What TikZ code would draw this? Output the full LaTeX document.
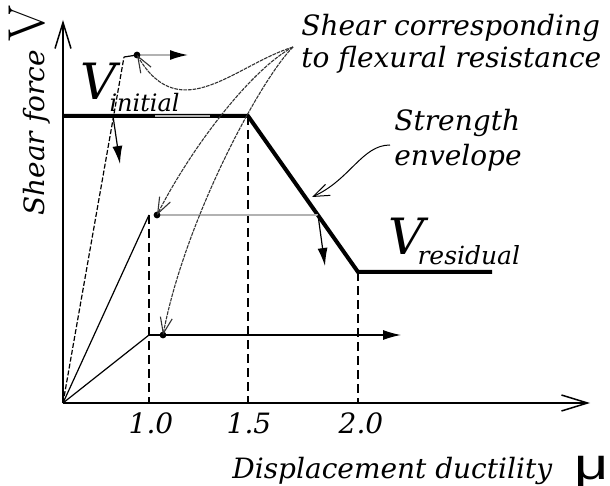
\documentclass[tikz,border=0pt]{standalone}
\usepackage{fontspec}
\newfontfamily\musans{Liberation Sans}
\newfontfamily\lblfont{DejaVu Serif}
\usetikzlibrary{arrows.meta}

\begin{document}
\begin{tikzpicture}[x=0.5pt,y=-0.5pt,
  axis/.style={line width=0.75pt,-{Straight Barb[length=13pt,width=8pt]}},
  envelope/.style={line width=2pt,line join=miter},
  guide/.style={line width=0.75pt,dash pattern=on 4.5pt off 2.5pt},
  lead/.style={line width=0.55pt,black!80,dash pattern=on 1.8pt off 0.5pt,-{Straight Barb[length=8pt,width=6pt]}},
  push/.style={line width=0.6pt,-{Latex[length=9pt,width=5pt]}},
  lbl/.style={font=\lblfont\itshape\fontsize{14}{16}\selectfont,inner sep=0pt}]

\useasboundingbox (0,0) rectangle (610,486);

% axes
\coordinate (O) at (63,403);
\coordinate (ytop) at (63,20);
\coordinate (xend) at (590,403);
\draw[axis] (O) -- (ytop);
\draw[axis] (O) -- (xend);

% strength envelope
\coordinate (E0) at (63,116);
\coordinate (E1) at (248,116);
\coordinate (E2) at (358,272);
\coordinate (E3) at (492,272);
\draw[envelope] (E0) -- (E1) -- (E2) -- (E3);
\coordinate (hl1) at (155,116);
\coordinate (hl2) at (210,116);
\draw[gray!60,line width=0.8pt] (hl1) -- (hl2);

% ductility 1.0, 1.5, 2.0
\coordinate (P2) at (149,215);
\coordinate (P3) at (149,335);
\coordinate (m1) at (149,403);
\coordinate (m2) at (248,403);
\coordinate (m3) at (358,403);
\draw[guide] (P2) -- (m1);
\draw[guide] (E1) -- (m2);
\draw[guide] (E2) -- (m3);

% initial stiffness, shear at V initial
\coordinate (P1) at (124,57);
\coordinate (D1) at (137,55);
\coordinate (A1) at (188,55);
\coordinate (I1) at (113,116);
\coordinate (I2) at (120,164);
\draw[line width=0.6pt,dash pattern=on 2.5pt off 1pt] (O) -- (P1);
\draw[line width=0.6pt] (P1) -- (D1);
\draw[line width=0.8pt,gray!60,-{Latex[black,length=9pt,width=5pt]}] (D1) -- (A1);
\draw[push] (I1) -- (I2);

% shear at ductility 1.0
\coordinate (D2) at (157,215);
\coordinate (G2) at (318,215);
\coordinate (G3) at (325,266);
\draw[line width=0.6pt] (O) -- (P2);
\draw[gray!60,line width=1.2pt] (D2) -- (G2);
\draw[push] (G2) -- (G3);

% residual
\coordinate (D3) at (163,335);
\coordinate (A3) at (401,335);
\draw[line width=0.6pt] (O) -- (P3);
\draw[push] (P3) -- (A3);

\fill (D1) circle (1.7pt);
\fill (D2) circle (1.7pt);
\fill (D3) circle (1.7pt);

% labels
\node[lbl,anchor=north west,align=left] (flex) at (301,14)
  {Shear corresponding\\to flexural resistance};
\node[lbl,anchor=north west,align=left,font=\lblfont\itshape\fontsize{14}{17.5}\selectfont] (strength) at (394,109)
  {Strength\\envelope};
\node[lbl,anchor=base west] (vinit) at (80,100)
  {{\fontsize{25}{28}\selectfont V}\kern-3.5pt\raisebox{-6pt}{\fontsize{12}{14}\selectfont initial}};
\node[lbl,anchor=base west] (vres) at (388,255)
  {{\fontsize{25}{28}\selectfont V}\kern-3.5pt\raisebox{-5pt}{\fontsize{12.5}{14}\selectfont residual}};
\node[lbl] (t1) at (151,423) {1.0};
\node[lbl] (t2) at (249,423) {1.5};
\node[lbl] (t3) at (361,423) {2.0};
\node[lbl,anchor=base west] (xlab) at (232,478) {Displacement ductility};
\node[inner sep=0pt,anchor=base west,font=\musans\fontsize{22}{24}\selectfont] (mu) at (574,479) {\scalebox{1.35}[1]{μ}};
\node[lbl,anchor=base west,rotate=90] (ylab) at (44,216)
  {Shear force \textup{\fontsize{26}{28}\selectfont\rmfamily V}};

% leaders
\coordinate (S) at (293,47);
\coordinate (T) at (390,145);
\coordinate (Tend) at (312,197);
\draw[lead] (S) .. controls (235,65) and (180,128) .. (D1);
\draw[lead] (S) .. controls (250,70) and (190,150) .. (D2);
\draw[lead] (S) .. controls (260,80) and (185,220) .. (D3);
\draw[line width=0.5pt,-{Straight Barb[length=8pt,width=6pt]}] (T) .. controls (362,145) and (350,180) .. (Tend);

\end{tikzpicture}
\end{document}
